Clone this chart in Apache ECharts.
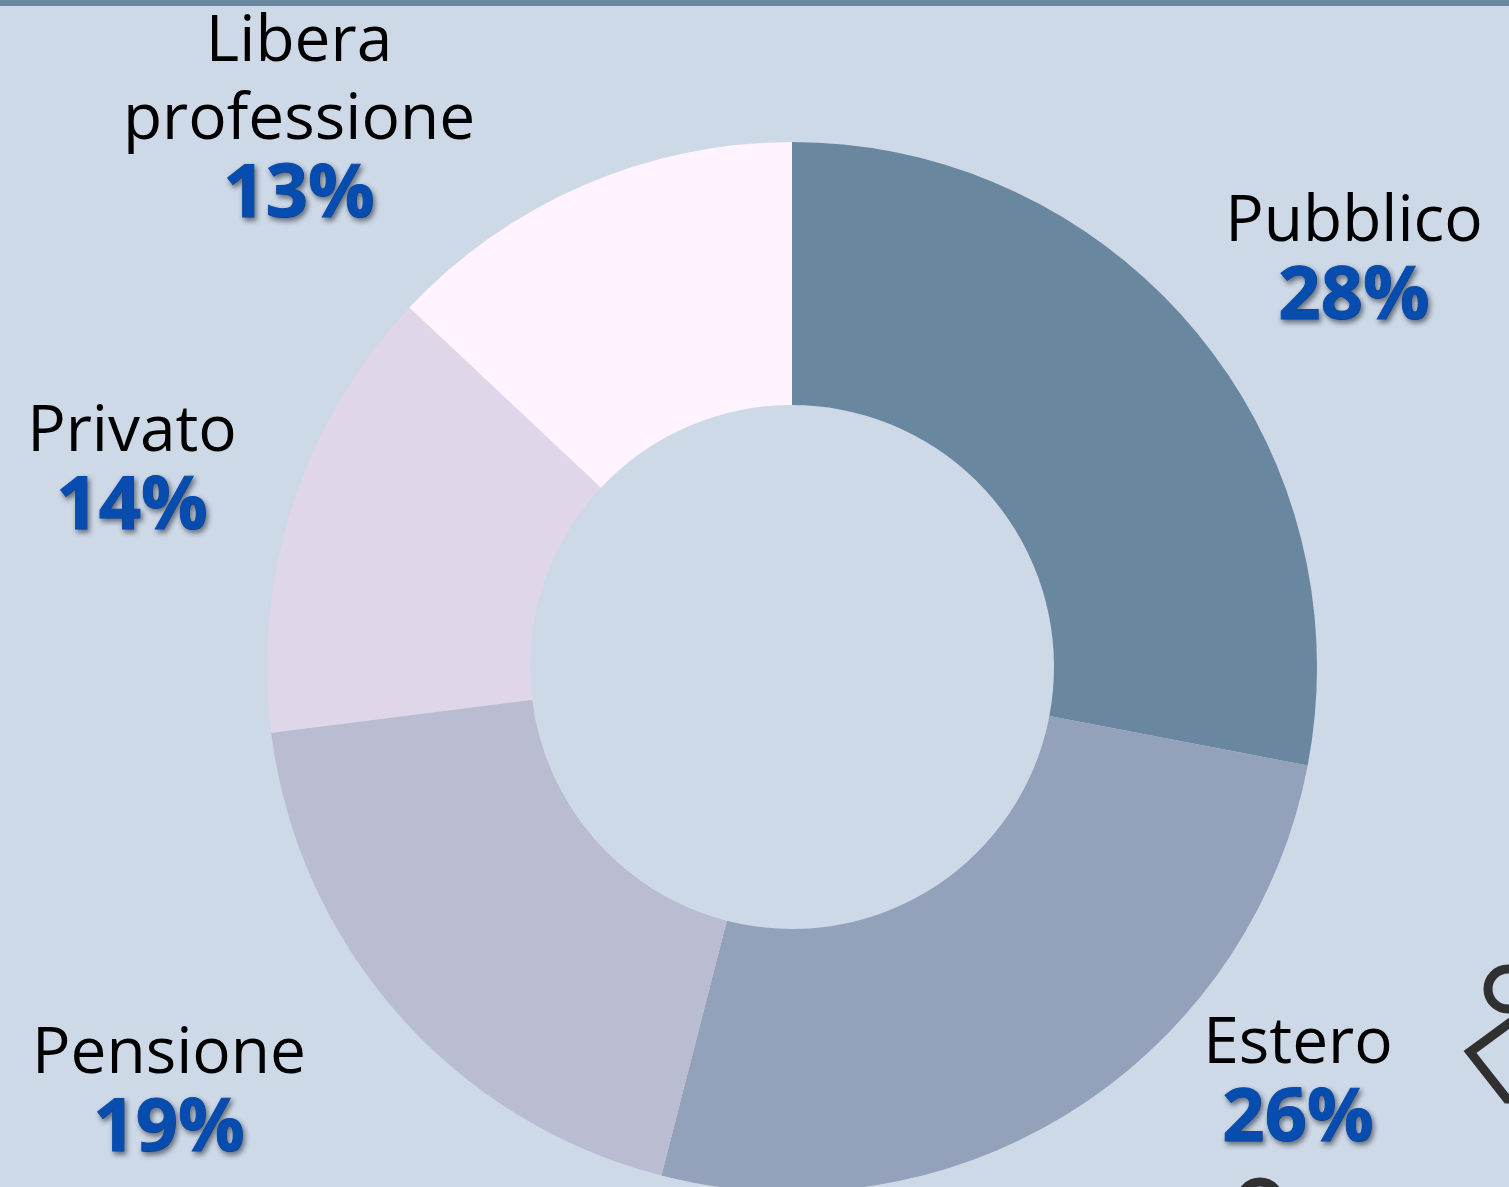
<!DOCTYPE html>
<html>
<head>
<meta charset="utf-8">
<style>
  html, body { margin: 0; padding: 0; background: #ced9e7; overflow: hidden; }
  #main { width: 1509px; height: 1187px; }
</style>
<script src="https://cdn.jsdelivr.net/npm/echarts@6/dist/echarts.min.js"></script>
</head>
<body>
<div id="main"></div>
<script>
var categories = ['Pubblico', 'Estero', 'Pensione', 'Privato', 'Libera\nprofessione'];
var shares = [28, 26, 19, 14, 13];
var sliceColors = ['#6a87a0', '#93a1bb', '#babcd1', '#dfd6e9', '#fef3fe'];
// centre of each label block, in page pixels
var labelSpots = [[1354, 259], [1298, 1081], [169, 1091], [132, 469], [299, 118]];

var chart = echarts.init(document.getElementById('main'));

var option = {
    backgroundColor: '#ced9e7',
    animation: false,
    series: [
        {
            type: 'pie',
            center: [792, 667],
            radius: [262, 525],
            startAngle: 90,
            clockwise: true,
            silent: true,
            itemStyle: { borderWidth: 0 },
            labelLine: { show: false },
            label: {
                show: true,
                // inside: outside labels get truncated near the page edge
                position: 'inside',
                rotate: 0,
                align: 'center',
                textBorderWidth: 0,
                formatter: function (p) {
                    return '{name|' + p.name.split('\n').join('}\n{name|') + '}\n{pct|' + p.value + '%}';
                },
                rich: {
                    name: {
                        fontFamily: 'Open Sans',
                        fontSize: 64,
                        lineHeight: 78,
                        color: '#000000',
                        align: 'center'
                    },
                    pct: {
                        fontFamily: 'Open Sans',
                        fontSize: 74,
                        fontWeight: 'bold',
                        lineHeight: 72,
                        color: '#074db0',
                        align: 'center',
                        textBorderColor: '#074db0',
                        textBorderWidth: 1,
                        textShadowColor: 'rgba(30,40,60,0.6)',
                        textShadowBlur: 5,
                        textShadowOffsetX: 2,
                        textShadowOffsetY: 3
                    }
                }
            },
            labelLayout: function (p) {
                return {
                    x: labelSpots[p.dataIndex][0],
                    y: labelSpots[p.dataIndex][1],
                    align: 'center',
                    verticalAlign: 'middle',
                    hideOverlap: false
                };
            },
            data: categories.map(function (name, i) {
                return { name: name, value: shares[i], itemStyle: { color: sliceColors[i] } };
            })
        }
    ],
    graphic: [
        // band along the top edge
        { type: 'rect', shape: { x: 0, y: 0, width: 1509, height: 6 }, style: { fill: '#6a87a0' } },
        // bits of the neighbouring pictograms, cut off by the page edge
        { type: 'circle', shape: { cx: 1508, cy: 989, r: 20 }, style: { fill: 'none', stroke: '#303030', lineWidth: 9 } },
        { type: 'polyline', shape: { points: [[1515, 1019], [1470, 1052], [1507, 1099], [1520, 1099]] }, style: { fill: 'none', stroke: '#303030', lineWidth: 9 } },
        { type: 'circle', shape: { cx: 1260, cy: 1202, r: 20 }, style: { fill: 'none', stroke: '#303030', lineWidth: 9 } }
    ]
};

chart.setOption(option);
</script>
</body>
</html>
